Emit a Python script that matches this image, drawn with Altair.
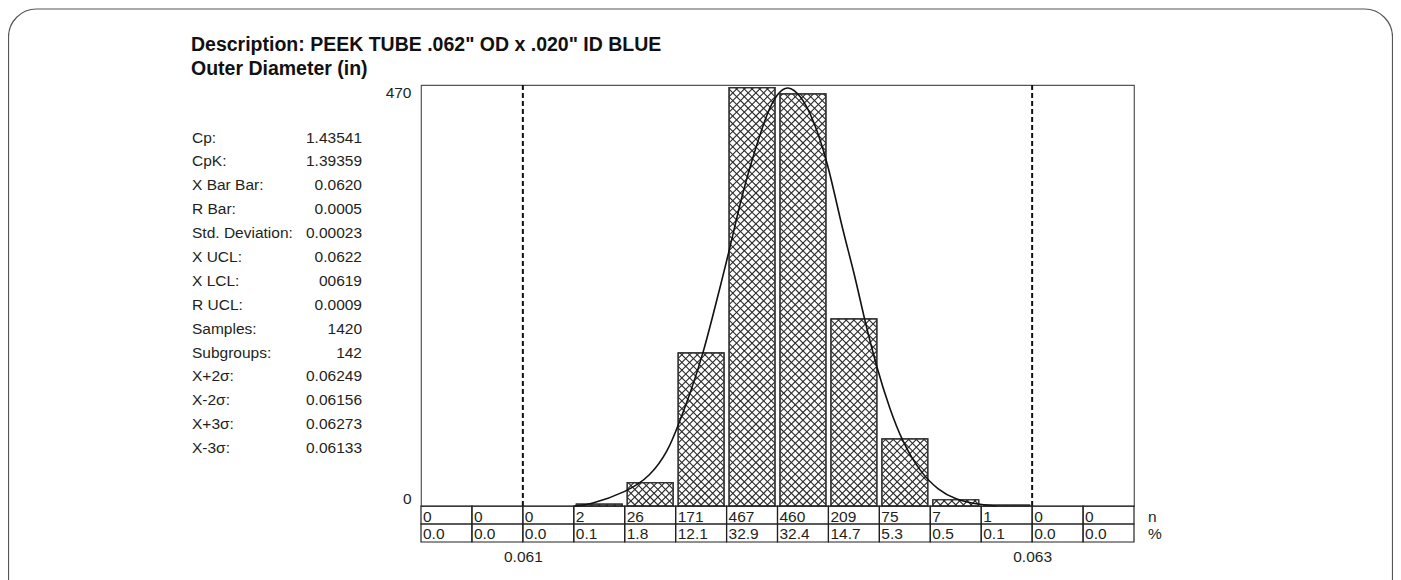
import altair as alt
import pandas as pd

# ---------------- data ----------------
bin_start = [0.0606, 0.0608, 0.0610, 0.0612, 0.0614, 0.0616, 0.0618,
             0.0620, 0.0622, 0.0624, 0.0626, 0.0628, 0.0630, 0.0632]
bin_end = [0.0608, 0.0610, 0.0612, 0.0614, 0.0616, 0.0618, 0.0620,
           0.0622, 0.0624, 0.0626, 0.0628, 0.0630, 0.0632, 0.0634]
counts = [0, 0, 0, 2, 26, 171, 467, 460, 209, 75, 7, 1, 0, 0]
percents = ["0.0", "0.0", "0.0", "0.1", "1.8", "12.1", "32.9",
            "32.4", "14.7", "5.3", "0.5", "0.1", "0.0", "0.0"]

spec_limits = [0.061, 0.063]

curve_x = [0.06120, 0.06126, 0.06141, 0.06150, 0.06157, 0.06161, 0.06166,
           0.06171, 0.06176, 0.06181, 0.06186, 0.06191, 0.06196, 0.06200,
           0.06204, 0.06209, 0.06214, 0.06220, 0.06225, 0.06230, 0.06234,
           0.06239, 0.06244, 0.06249, 0.06256, 0.06263, 0.06270, 0.06278,
           0.06286]
curve_y = [0, 1, 16, 33, 61, 90, 128, 172, 228, 284, 347, 396, 440, 461,
           470, 459, 433, 381, 314, 262, 210, 154, 109, 72, 38, 18, 7, 2, 0]

stat_labels = ["Cp:", "CpK:", "X Bar Bar:", "R Bar:", "Std. Deviation:",
               "X UCL:", "X LCL:", "R UCL:", "Samples:", "Subgroups:",
               "X+2σ:", "X-2σ:", "X+3σ:", "X-3σ:"]
stat_values = ["1.43541", "1.39359", "0.0620", "0.0005", "0.00023",
               "0.0622", "00619", "0.0009", "1420", "142",
               "0.06249", "0.06156", "0.06273", "0.06133"]

title_lines = ['Description: PEEK TUBE .062" OD x .020" ID BLUE',
               "Outer Diameter (in)"]
row_labels = ["n", "%"]
x_ticks = [0.061, 0.063]
y_ticks = [0, 470]

# ---------------- layout / scales ----------------
W, H = 713, 421
XMIN, XMAX, YMAX = 0.0606, 0.0634, 470
KX = W / (XMAX - XMIN)      # px per x unit
KY = H / YMAX               # px per count
INSET = 2.5
STEP = 7.7
FONT = "Liberation Sans"
TXT = "#231f20"
FS = 15.5

bins = pd.DataFrame({"start": bin_start, "end": bin_end,
                     "count": counts, "pct": percents})
curve = pd.DataFrame({"x": curve_x, "y": curve_y})
limits = pd.DataFrame({"x": spec_limits})
one = pd.DataFrame({"k": [0]})

xscale = alt.Scale(domain=[XMIN, XMAX], nice=False, zero=False)
yscale = alt.Scale(domain=[0, YMAX], nice=False)
x_axis = alt.Axis(values=x_ticks, format=".3f", ticks=False, domain=False,
                  grid=False, labelPadding=43, labelFontSize=FS,
                  labelFont=FONT, labelColor=TXT, title=None)
y_axis = alt.Axis(values=y_ticks, labelFlush=True, ticks=False, domain=False,
                  grid=False, labelPadding=10, labelFontSize=FS,
                  labelFont=FONT, labelColor=TXT, title=None)


def X(field):
    return alt.X(field, type="quantitative", scale=xscale, axis=x_axis)


def Y(field):
    return alt.Y(field, type="quantitative", scale=yscale, axis=y_axis)


# rounded outer border
border = alt.Chart(one).mark_rect(
    fill="white", fillOpacity=0, stroke="#555", strokeWidth=1.2, cornerRadius=28
).encode(x=alt.value(-412.5), x2=alt.value(971.5),
         y=alt.value(-76), y2=alt.value(530))

# bars (only non-empty bins get a box)
bars = alt.Chart(bins).transform_filter("datum.count > 0").mark_rect(
    fill="white", stroke="#333", strokeWidth=1.2, xOffset=INSET, x2Offset=-INSET
).encode(x=X("start"), x2="end", y=Y("count"), y2=alt.datum(0))

# cross hatching computed from the bar data through the same scales


def hatch(direction):
    base = alt.Chart(bins).transform_calculate(
        Wp=f"(datum.end - datum.start) * {KX} - {2 * INSET}",
        Hp=f"datum.count * {KY}",
    ).transform_calculate(
        cs=f"sequence(-datum.Wp + 1, datum.Hp, {STEP})"
    ).transform_flatten(["cs"])
    if direction == "up":
        base = base.transform_calculate(
            xs="max(0, -datum.cs)",
            xe="min(datum.Wp, datum.Hp - datum.cs)",
        ).transform_calculate(
            ya="datum.xs + datum.cs", yb="datum.xe + datum.cs")
    else:
        base = base.transform_calculate(
            xs="max(0, datum.Wp + datum.cs - datum.Hp)",
            xe="min(datum.Wp, datum.Wp + datum.cs)",
        ).transform_calculate(
            ya="datum.Wp - datum.xs + datum.cs",
            yb="datum.Wp - datum.xe + datum.cs")
    base = base.transform_filter("datum.xe - datum.xs > 0.3").transform_calculate(
        X1=f"datum.start + ({INSET} + datum.xs) / {KX}",
        X2=f"datum.start + ({INSET} + datum.xe) / {KX}",
        Y1=f"datum.ya / {KY}",
        Y2=f"datum.yb / {KY}",
    )
    return base.mark_rule(color="#2a2a2a", strokeWidth=1.1).encode(
        x=X("X1"), x2="X2", y=Y("Y1"), y2="Y2")


hatch_up = hatch("up")
hatch_down = hatch("down")

bar_outline = alt.Chart(bins).transform_filter("datum.count > 0").mark_rect(
    fill="white", fillOpacity=0, stroke="#333", strokeWidth=1.2,
    xOffset=INSET, x2Offset=-INSET
).encode(x=X("start"), x2="end", y=Y("count"), y2=alt.datum(0))

curve_line = alt.Chart(curve).mark_line(
    color="#111", strokeWidth=1.6, interpolate="basis"
).encode(x=X("x"), y=Y("y"))

spec_rules = alt.Chart(limits).mark_rule(
    color="#111", strokeWidth=2, strokeDash=[5, 3]
).encode(x=X("x"))

# table under the histogram
cells_n = alt.Chart(bins).mark_rect(
    fill="white", fillOpacity=0, stroke="#222", strokeWidth=1.2
).encode(x=X("start"), x2="end", y=alt.value(421), y2=alt.value(439))
cells_p = alt.Chart(bins).mark_rect(
    fill="white", fillOpacity=0, stroke="#222", strokeWidth=1.2
).encode(x=X("start"), x2="end", y=alt.value(439), y2=alt.value(457))

text_n = alt.Chart(bins).mark_text(
    align="left", baseline="alphabetic", dx=2, fontSize=FS, font=FONT, color=TXT
).encode(x=X("start"), y=alt.value(436.5), text="count:Q")
text_p = alt.Chart(bins).mark_text(
    align="left", baseline="alphabetic", dx=2, fontSize=FS, font=FONT, color=TXT
).encode(x=X("start"), y=alt.value(453.5), text="pct:N")

row_lbl = alt.Chart(one).mark_text(
    align="left", baseline="alphabetic", fontSize=FS, font=FONT, color=TXT,
    lineHeight=17
).encode(x=alt.value(727), y=alt.value(436.5), text=alt.value(row_labels))

# statistics block
stats_l = alt.Chart(one).mark_text(
    align="left", baseline="alphabetic", fontSize=FS, font=FONT, color=TXT,
    lineHeight=23.9
).encode(x=alt.value(-229), y=alt.value(57.5), text=alt.value(stat_labels))
stats_v = alt.Chart(one).mark_text(
    align="right", baseline="alphabetic", fontSize=FS, font=FONT, color=TXT,
    lineHeight=23.9
).encode(x=alt.value(-59), y=alt.value(57.5), text=alt.value(stat_values))

# titles
titles = alt.Chart(one).mark_text(
    align="left", baseline="alphabetic", fontSize=19.5, fontWeight="bold",
    font=FONT, color="#111", lineHeight=24
).encode(x=alt.value(-230), y=alt.value(-34), text=alt.value(title_lines))

chart = alt.layer(
    border, bars, hatch_up, hatch_down, bar_outline, curve_line, spec_rules,
    cells_n, cells_p, text_n, text_p, row_lbl, stats_l, stats_v, titles
).properties(
    width=W, height=H,
    autosize=alt.AutoSizeParams(type="none"),
    padding={"left": 413, "top": 77, "right": 259, "bottom": 74},
).configure_view(stroke="#555", strokeWidth=1.2)

chart.save("out.html", embed_options={"renderer": "svg", "actions": False})
